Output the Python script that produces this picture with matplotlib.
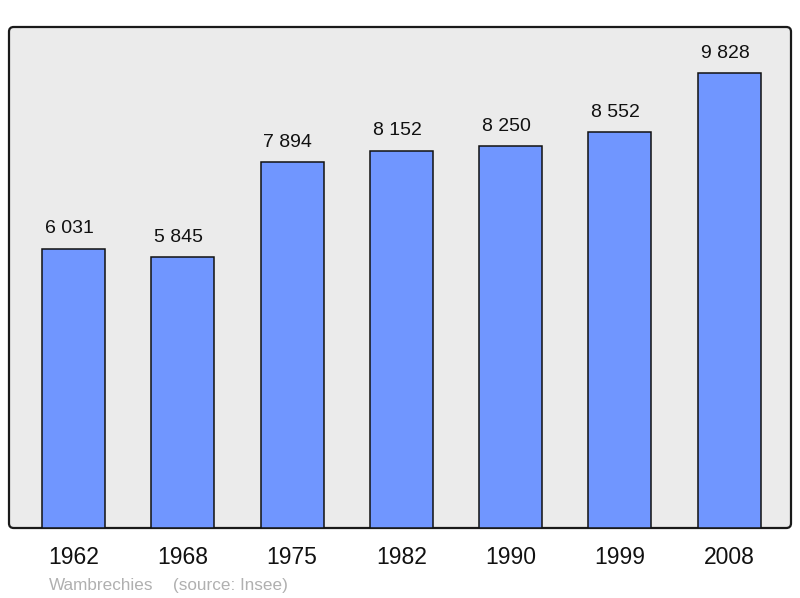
import matplotlib.pyplot as plt
from matplotlib.patches import FancyBboxPatch

# population of Wambrechies (source: Insee)
years = ['1962', '1968', '1975', '1982', '1990', '1999', '2008']
population = [6031, 5845, 7894, 8152, 8250, 8552, 9828]
value_labels = ['6 031', '5 845', '7 894', '8 152', '8 250', '8 552', '9 828']

plt.rcParams['font.family'] = ['Liberation Sans', 'DejaVu Sans']

fig = plt.figure(figsize=(8, 5.98), dpi=100)
ax = fig.add_axes([9 / 800, 70 / 598, 782 / 800, 501 / 598])

x = list(range(len(years)))

# gray panel with rounded corners
panel = FancyBboxPatch((0, 0), 1, 1, boxstyle='round,pad=0,rounding_size=0.006',
                       mutation_aspect=782 / 501, transform=ax.transAxes,
                       facecolor='#ebebeb', edgecolor='#1a1a1a', linewidth=1.6,
                       clip_on=False, zorder=0)
ax.add_patch(panel)
ax.set_facecolor('none')
for s in ax.spines.values():
    s.set_visible(False)

ax.bar(x, population, width=0.576, color='#7096ff', edgecolor='#111111',
       linewidth=1.1, zorder=2)

for xi, val, lab in zip(x, population, value_labels):
    ax.text(xi - 0.04, val + 330, lab, ha='center', va='baseline',
            fontsize=14, color='#111111')

ax.set_xlim(-0.59, 6.565)
ax.set_ylim(0, 10820)
ax.set_yticks([])
ax.set_xticks(x, years)
ax.tick_params(axis='x', length=0, pad=13, labelsize=16.5, colors='#111111')

fig.text(49 / 800, 1 - 590 / 598, 'Wambrechies', fontsize=12.3, color='#b0b0b0')
fig.text(173 / 800, 1 - 590 / 598, '(source: Insee)', fontsize=12.3, color='#b0b0b0')

fig.savefig('out.png', dpi=100)
